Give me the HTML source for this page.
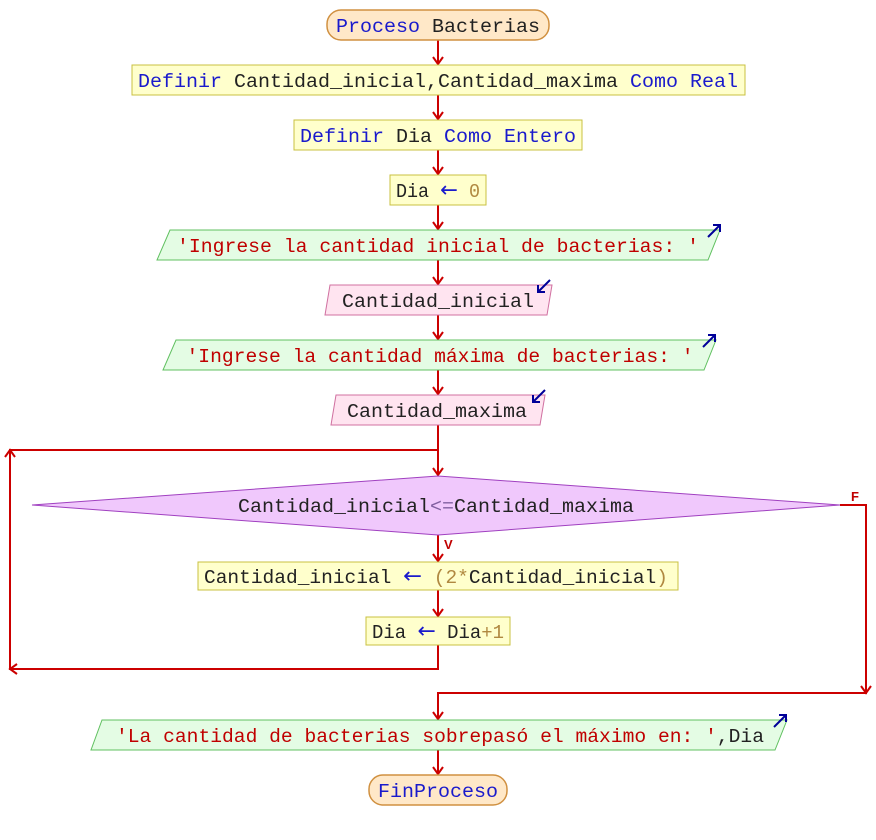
<!DOCTYPE html>
<html><head><meta charset="utf-8"><style>
html,body{margin:0;padding:0;background:#fff;}
svg{display:block;}
text{font-family:"Liberation Mono","DejaVu Sans Mono",monospace;font-size:19px;fill:#222;}
.k{fill:#1a1acc;} .s{fill:#c00000;} .n{fill:#b08840;} .t{fill:#222;}
.a{fill:#1a1acc;font-family:"DejaVu Sans",sans-serif;font-size:22px;}
.ln{stroke:#cc0000;stroke-width:2;fill:none;}
.bl{stroke:#000099;stroke-width:2;fill:none;}
</style></head><body>
<svg width="876" height="840" viewBox="0 0 876 840" xmlns="http://www.w3.org/2000/svg">
<g class="ln">
<path d="M438 40V64M433 57L438 64L443 57"/>
<path d="M438 95V119M433 112L438 119L443 112"/>
<path d="M438 150V174M433 167L438 174L443 167"/>
<path d="M438 205V229M433 222L438 229L443 222"/>
<path d="M438 260V284M433 277L438 284L443 277"/>
<path d="M438 315V339M433 332L438 339L443 332"/>
<path d="M438 370V394M433 387L438 394L443 387"/>
<path d="M438 425V475M433 468L438 475L443 468"/>
<path d="M438 535V561M433 554L438 561L443 554"/>
<path d="M438 590V616M433 609L438 616L443 609"/>
<path d="M438 645V669H10V450H438"/>
<path d="M5 457L10 450L15 457"/>
<path d="M17 664L10 669L17 674"/>
<path d="M840 505H866V693H438V719"/>
<path d="M861 686L866 693L871 686"/>
<path d="M433 712L438 719L443 712"/>
<path d="M438 750V774M433 767L438 774L443 767"/>
</g>
<text x="851" y="501" style="font-size:13px;font-family:'Liberation Sans',sans-serif;font-weight:bold" class="s">F</text>
<text x="444" y="549" style="font-size:13px;font-family:'Liberation Sans',sans-serif;font-weight:bold" class="s">V</text>

<rect x="327" y="10" width="222" height="30" rx="14" fill="#ffe8c8" stroke="#d09040" stroke-width="1.5"/>
<text x="438" y="32" text-anchor="middle" textLength="204" lengthAdjust="spacingAndGlyphs"><tspan class="k">Proceso</tspan> Bacterias</text>

<rect x="132" y="65" width="613" height="30" fill="#ffffcc" stroke="#c8c040"/>
<text x="438" y="87" text-anchor="middle" textLength="600" lengthAdjust="spacingAndGlyphs"><tspan class="k">Definir</tspan> Cantidad_inicial,Cantidad_maxima <tspan class="k">Como Real</tspan></text>

<rect x="294" y="120" width="288" height="30" fill="#ffffcc" stroke="#c8c040"/>
<text x="438" y="142" text-anchor="middle" textLength="276" lengthAdjust="spacingAndGlyphs"><tspan class="k">Definir</tspan> Dia <tspan class="k">Como Entero</tspan></text>

<rect x="390" y="175" width="96" height="30" fill="#ffffcc" stroke="#c8c040"/>
<text x="438" y="197" text-anchor="middle" textLength="84" lengthAdjust="spacingAndGlyphs">Dia <tspan class="a">←</tspan> <tspan class="n">0</tspan></text>

<polygon points="170,230 720,230 708,260 157,260" fill="#e4fce4" stroke="#60c060"/>
<text x="438" y="252" text-anchor="middle" textLength="522" lengthAdjust="spacingAndGlyphs" class="s">'Ingrese la cantidad inicial de bacterias: '</text>
<path class="bl" d="M708 237L720 225M713 225H720V232"/>

<polygon points="330,285 552,285 547,315 325,315" fill="#ffe4f0" stroke="#d070a0"/>
<text x="438" y="307" text-anchor="middle" textLength="192" lengthAdjust="spacingAndGlyphs">Cantidad_inicial</text>
<path class="bl" d="M550 280L538 292M538 285V292H545"/>

<polygon points="176,340 716,340 704,370 163,370" fill="#e4fce4" stroke="#60c060"/>
<text x="440" y="362" text-anchor="middle" textLength="507" lengthAdjust="spacingAndGlyphs" class="s">'Ingrese la cantidad máxima de bacterias: '</text>
<path class="bl" d="M703 347L715 335M708 335H715V342"/>

<polygon points="336,395 545,395 540,425 331,425" fill="#ffe4f0" stroke="#d070a0"/>
<text x="437" y="417" text-anchor="middle" textLength="180" lengthAdjust="spacingAndGlyphs">Cantidad_maxima</text>
<path class="bl" d="M545 390L533 402M533 395V402H540"/>

<polygon points="32,505 438,476 840,505 438,535" fill="#f0c8fc" stroke="#a040c0"/>
<text x="436" y="512" text-anchor="middle" textLength="396" lengthAdjust="spacingAndGlyphs">Cantidad_inicial<tspan style="fill:#8060a0">&lt;=</tspan>Cantidad_maxima</text>

<rect x="198" y="562" width="480" height="28" fill="#ffffcc" stroke="#c8c040"/>
<text x="436" y="583" text-anchor="middle" textLength="464" lengthAdjust="spacingAndGlyphs">Cantidad_inicial <tspan class="a">←</tspan> <tspan class="n">(2*</tspan>Cantidad_inicial<tspan class="n">)</tspan></text>

<rect x="366" y="617" width="144" height="28" fill="#ffffcc" stroke="#c8c040"/>
<text x="438" y="638" text-anchor="middle" textLength="132" lengthAdjust="spacingAndGlyphs">Dia <tspan class="a">←</tspan> Dia<tspan class="n">+1</tspan></text>

<polygon points="102,720 787,720 775,750 91,750" fill="#e4fce4" stroke="#60c060"/>
<text x="440" y="742" text-anchor="middle" textLength="648" lengthAdjust="spacingAndGlyphs"><tspan class="s">'La cantidad de bacterias sobrepasó el máximo en: '</tspan>,Dia</text>
<path class="bl" d="M774 727L786 715M779 715H786V722"/>

<rect x="369" y="775" width="138" height="30" rx="14" fill="#ffe8c8" stroke="#d09040" stroke-width="1.5"/>
<text x="438" y="797" text-anchor="middle" textLength="120" lengthAdjust="spacingAndGlyphs" class="k">FinProceso</text>
</svg>
</body></html>
